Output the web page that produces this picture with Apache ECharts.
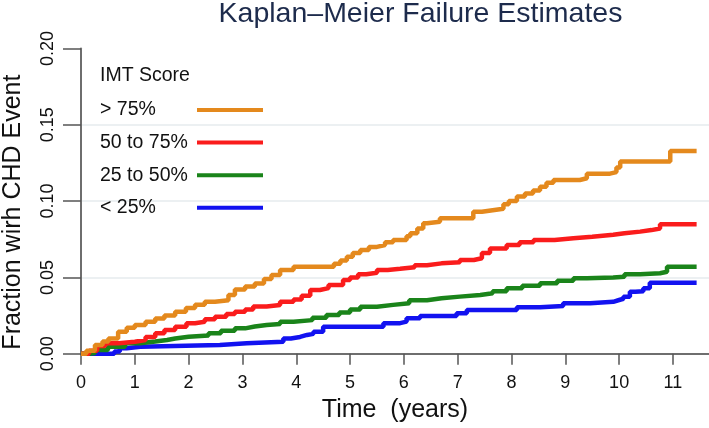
<!DOCTYPE html>
<html>
<head>
<meta charset="utf-8">
<script src="https://cdn.jsdelivr.net/npm/echarts@6/dist/echarts.min.js"></script>
<style>html,body{margin:0;padding:0;background:#fff;}#c{width:709px;height:428px;}</style>
</head>
<body>
<div id="c"></div>
<script>
// ---- data (time in years, cumulative fraction with CHD event) ----
const seriesNames = ['> 75%', '50 to 75%', '25 to 50%', '< 25%'];
const xTicks = [0,1,2,3,4,5,6,7,8,9,10,11];
const yTicks = [0, 0.05, 0.10, 0.15, 0.20];

const gt75 = [[0,0],[0.1,0.002],[0.26,0.0057],[0.4,0.008],[0.51,0.010],[0.69,0.0144],[0.85,0.017],[1.0,0.0188],[1.2,0.021],[1.38,0.023],[1.55,0.025],[1.75,0.0275],[1.95,0.030],[2.12,0.032],[2.3,0.034],[2.49,0.035],[2.74,0.0385],[2.86,0.042],[3.05,0.044],[3.23,0.046],[3.4,0.049],[3.54,0.0516],[3.7,0.0549],[3.95,0.057],[4.7,0.059],[4.82,0.061],[4.94,0.0636],[5.05,0.066],[5.19,0.068],[5.35,0.070],[5.5,0.0712],[5.65,0.073],[5.8,0.0745],[6.05,0.077],[6.12,0.079],[6.25,0.082],[6.36,0.0855],[6.43,0.0865],[6.67,0.0887],[7.29,0.093],[7.45,0.094],[7.65,0.095],[7.85,0.098],[7.95,0.100],[8.1,0.103],[8.25,0.105],[8.4,0.107],[8.53,0.1094],[8.65,0.112],[8.78,0.1138],[9.27,0.115],[9.4,0.118],[9.83,0.119],[9.95,0.122],[10.02,0.126],[10.95,0.1328],[11.44,0.1328]];

const p50to75 = [[0,0],[0.15,0.002],[0.3,0.005],[0.45,0.0068],[0.7,0.0078],[1.0,0.009],[1.2,0.011],[1.38,0.0134],[1.55,0.0155],[1.75,0.0177],[1.96,0.020],[2.12,0.021],[2.3,0.0225],[2.49,0.0242],[2.7,0.026],[2.86,0.0275],[3.05,0.029],[3.2,0.031],[3.45,0.0319],[3.7,0.034],[3.95,0.0355],[4.1,0.038],[4.26,0.0417],[4.44,0.043],[4.6,0.045],[4.87,0.0483],[5.0,0.050],[5.15,0.052],[5.3,0.053],[5.5,0.0548],[5.7,0.0556],[5.93,0.0566],[6.2,0.058],[6.43,0.0592],[6.7,0.060],[7.04,0.0614],[7.3,0.0625],[7.45,0.066],[7.6,0.069],[7.91,0.0712],[8.15,0.073],[8.41,0.0745],[8.8,0.0757],[9.15,0.0767],[9.5,0.078],[9.89,0.0789],[10.1,0.080],[10.39,0.081],[10.6,0.082],[10.76,0.0848],[11.44,0.0848]];

const p25to50 = [[0,0],[0.15,0.0005],[0.26,0.0024],[0.5,0.0045],[0.82,0.0068],[1.1,0.008],[1.38,0.009],[1.6,0.010],[1.75,0.0111],[2.0,0.012],[2.37,0.0134],[2.6,0.015],[2.86,0.0166],[3.05,0.0178],[3.23,0.0188],[3.45,0.0195],[3.7,0.021],[3.95,0.022],[4.3,0.0235],[4.56,0.0254],[4.8,0.027],[5.0,0.029],[5.19,0.0308],[5.5,0.032],[5.8,0.033],[6.1,0.035],[6.43,0.0363],[6.7,0.0374],[7.04,0.0385],[7.42,0.0396],[7.65,0.041],[7.91,0.0429],[8.2,0.0445],[8.53,0.0461],[8.85,0.0478],[9.15,0.0494],[9.4,0.050],[9.89,0.0505],[10.1,0.052],[10.39,0.0527],[10.76,0.0537],[10.89,0.057],[11.44,0.057]];

const lt25 = [[0,0],[0.54,0],[0.62,0.0015],[0.72,0.0035],[0.85,0.0045],[1.1,0.0057],[2.58,0.0068],[3.08,0.0079],[3.76,0.010],[3.9,0.011],[4.07,0.0123],[4.2,0.013],[4.32,0.0144],[4.5,0.0177],[5.62,0.020],[5.93,0.021],[6.05,0.0232],[6.3,0.0247],[6.98,0.0265],[7.17,0.0286],[8.1,0.0304],[8.53,0.0313],[8.96,0.033],[9.46,0.034],[9.89,0.0352],[10.0,0.036],[10.08,0.0374],[10.2,0.0406],[10.3,0.041],[10.45,0.0429],[10.57,0.0465],[11.44,0.0465]];

const seriesData = [gt75, p50to75, p25to50, lt25];
const colors = ['#E4891D', '#FA1C1C', '#1A841A', '#1212F0'];

const font = 'Liberation Sans, Arial, Helvetica, sans-serif';
const chart = echarts.init(document.getElementById('c'), null, {renderer: 'canvas'});

const option = {
  animation: false,
  backgroundColor: '#ffffff',
  title: [
    { text: 'Kaplan\u2013Meier Failure Estimates', left: 415.5, top: -5, textAlign: 'center',
      textStyle: { fontFamily: font, fontSize: 28.5, fontWeight: 'normal', color: '#1D2B4C' } },
    { text: 'IMT Score', left: 100, top: 66, padding: 0,
      textStyle: { fontFamily: font, fontSize: 19.5, fontWeight: 'normal', color: '#111' } }
  ],
  legend: {
    orient: 'vertical', left: 95, top: 95, align: 'right',
    icon: 'rect', itemWidth: 66, itemHeight: 4, itemGap: 12.6,
    data: seriesNames,
    formatter: name => '{t|' + name + '}',
    textStyle: {
      fontFamily: font, fontSize: 19.5, color: '#111',
      rich: { t: { width: 92, align: 'left', fontFamily: font, fontSize: 19.5, color: '#111', lineHeight: 20 } }
    },
    selectedMode: false
  },
  grid: { left: 81, right: 0, top: 48.5, bottom: 74.3, containLabel: false, outerBoundsMode: 'none' },
  xAxis: {
    type: 'value', min: 0, max: 11.67,
    name: 'Time  (years)', nameLocation: 'middle', nameGap: 44,
    nameTextStyle: { fontFamily: font, fontSize: 25, color: '#111' },
    axisLine: { show: true, onZero: false, lineStyle: { color: '#6e6e6e', width: 2 } },
    axisTick: { show: true, length: 11, customValues: xTicks, lineStyle: { color: '#555', width: 1.5 } },
    axisLabel: { customValues: xTicks, margin: 20, fontFamily: font, fontSize: 18, color: '#111' },
    splitLine: { show: false }
  },
  yAxis: {
    type: 'value', min: 0, max: 0.2, interval: 0.05,
    name: 'Fraction wirh CHD Event', nameLocation: 'middle', nameGap: 55,
    nameTextStyle: { fontFamily: font, fontSize: 25, color: '#111', padding: [0, 22, 0, 0] },
    axisLine: { show: true, lineStyle: { color: '#6e6e6e', width: 2 } },
    axisTick: { show: true, length: 18, lineStyle: { color: '#555', width: 1.5 } },
    axisLabel: { rotate: 90, margin: 24, fontFamily: font, fontSize: 18, color: '#111',
      formatter: v => v.toFixed(2) },
    splitLine: { show: true, showMinLine: false, showMaxLine: false, lineStyle: { color: '#E6EBEE', width: 1.5 } }
  },
  series: seriesData.map((d, i) => ({
    name: seriesNames[i], type: 'line', step: 'end', data: d,
    showSymbol: false, symbol: 'none',
    lineStyle: { color: colors[i], width: 4.5 },
    itemStyle: { color: colors[i] },
    z: 10 - i
  }))
};
chart.setOption(option);
</script>
</body>
</html>
